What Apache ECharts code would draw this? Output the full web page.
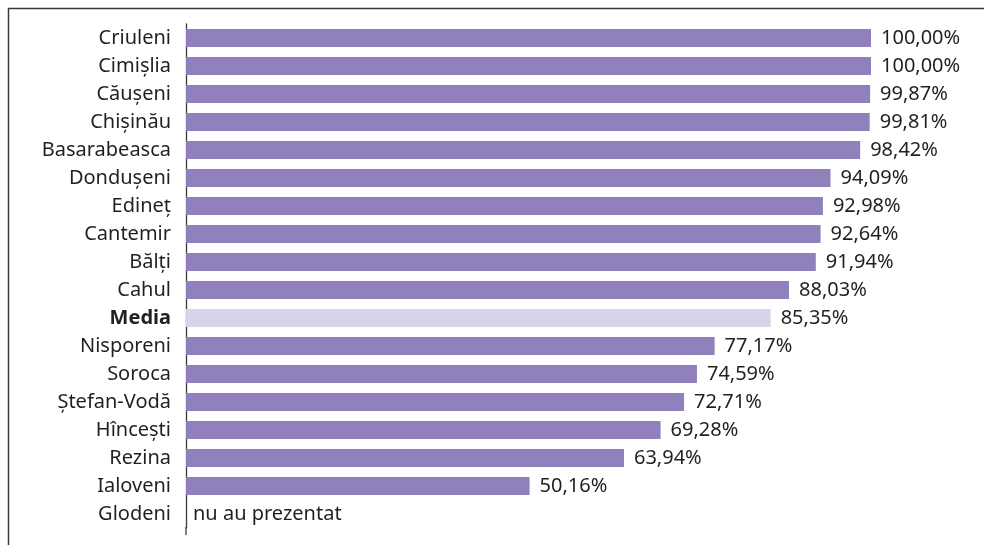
<!DOCTYPE html>
<html>
<head>
<meta charset="utf-8">
<script src="https://cdn.jsdelivr.net/npm/echarts@6/dist/echarts.min.js"></script>
<style>
  html, body { margin: 0; padding: 0; background: #fff; }
  #chart { width: 984px; height: 545px; }
</style>
</head>
<body>
<div id="chart"></div>
<script>
// Districts, top to bottom
const districts = [
  'Criuleni', 'Cimișlia', 'Căușeni', 'Chișinău', 'Basarabeasca', 'Dondușeni',
  'Edineț', 'Cantemir', 'Bălți', 'Cahul', 'Media', 'Nisporeni', 'Soroca',
  'Ștefan-Vodă', 'Hîncești', 'Rezina', 'Ialoveni', 'Glodeni'
];
// Share in percent; null = no data submitted
const shares = [
  100.00, 100.00, 99.87, 99.81, 98.42, 94.09,
  92.98, 92.64, 91.94, 88.03, 85.35, 77.17, 74.59,
  72.71, 69.28, 63.94, 50.16, null
];
const averageName = 'Media';
const missingText = 'nu au prezentat';

const FONT = '"Noto Sans", sans-serif';
const FS = 20;
const TEXT = '#231f20';
const BAR = '#9080bb';
const BAR_AVG = '#d8d3e8';

const fmt = v => v.toFixed(2).replace('.', ',') + '%';

const barData = districts.map((name, i) => {
  const v = shares[i];
  if (v === null) {
    return {
      value: 0,
      itemStyle: { color: 'transparent' },
      label: { show: true, position: 'insideLeft', offset: [-3, 0], formatter: missingText }
    };
  }
  return {
    value: v,
    itemStyle: { color: name === averageName ? BAR_AVG : BAR },
    label: { formatter: fmt(v) }
  };
});

const chart = echarts.init(document.getElementById('chart'));
chart.setOption({
  animation: false,
  grid: { left: 186, right: 113, top: 24, height: 504, containLabel: false },
  xAxis: {
    type: 'value', min: 0, max: 100, show: false
  },
  yAxis: {
    type: 'category',
    inverse: true,
    data: districts,
    axisLine: { show: true, lineStyle: { color: '#3a3a3a', width: 1.3 } },
    axisTick: { show: false },
    axisLabel: {
      margin: 15,
      fontFamily: FONT,
      fontSize: FS,
      color: TEXT,
      formatter: v => v === averageName ? '{b|' + v + '}' : v,
      rich: { b: { fontFamily: FONT, fontSize: FS, fontWeight: 'bold', color: TEXT } }
    }
  },
  series: [{
    type: 'bar',
    data: barData,
    barWidth: 18,
    label: {
      show: true,
      position: 'right',
      distance: 10,
      fontFamily: FONT,
      fontSize: FS,
      color: TEXT
    }
  }],
  graphic: [
    { type: 'line', shape: { x1: 8, y1: 8.5, x2: 984, y2: 8.5 }, style: { stroke: '#3a3a3a', lineWidth: 1.5 } },
    { type: 'line', shape: { x1: 8.5, y1: 8, x2: 8.5, y2: 545 }, style: { stroke: '#3a3a3a', lineWidth: 1.5 } },
    { type: 'line', shape: { x1: 186, y1: 527, x2: 186, y2: 535 }, style: { stroke: '#3a3a3a', lineWidth: 1.3 } }
  ]
});
</script>
</body>
</html>
